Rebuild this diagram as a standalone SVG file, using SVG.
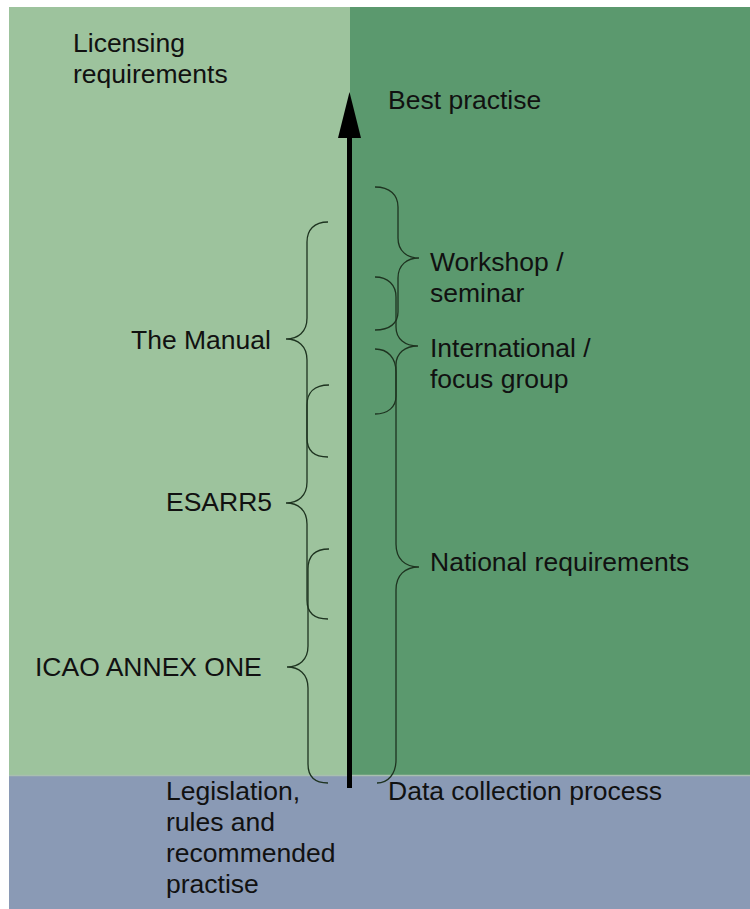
<svg xmlns="http://www.w3.org/2000/svg" width="750" height="909" viewBox="0 0 750 909">
<style>
text{font-family:"Liberation Sans",Arial,sans-serif;font-size:26.5px;fill:#111}
.brace{fill:none;stroke:#1e3320;stroke-width:1.3}
</style>
<rect x="0" y="0" width="750" height="909" fill="#ffffff"/>
<g id="background">
<rect x="9" y="7" width="341" height="768" fill="#9dc39d"/>
<rect x="350" y="7" width="400" height="768" fill="#5b996e"/>
<rect x="9" y="775" width="741" height="134" fill="#8a9ab5"/>
<line x1="9" y1="775.5" x2="750" y2="775.5" stroke="#a9bfb0" stroke-width="1.5"/>
</g>
<g id="connectors">
<line x1="349.5" y1="788" x2="349.5" y2="130" stroke="#000" stroke-width="5"/>
<polygon points="349.5,92 338,138 361,138" fill="#000"/>
<path class="brace" d="M328,222 C314,222 307,230 307,242 L307,318 C307,332 298,339 286,339 C298,339 307,346 307,360 L307,438 C307,450 314,457 328,457"/>
<path class="brace" d="M329,385 C314,385 307,393 307,405 L307,482 C307,496 298,503 286,503 C298,503 307,510 307,524 L307,600 C307,612 314,619 328,619"/>
<path class="brace" d="M329,549 C314,549 308,557 308,569 L308,646 C308,660 299,667 287,667 C299,667 308,674 308,688 L308,764 C308,776 314,783 328,783"/>
<path class="brace" d="M375,187 C390,187 398,195 398,207 L398,238 C398,251 407,258 419,258 C407,258 398,265 398,278 L398,312 C398,323 390,330 375,330"/>
<path class="brace" d="M375,277 C388,277 396,285 396,297 L396,327 C396,339 405,346 418,346 C405,346 396,353 396,365 L396,396 C396,407 388,414 375,414"/>
<path class="brace" d="M375,349 C388,349 396,358 396,372 L396,544 C396,559 405,567 419,567 C405,567 396,575 396,590 L396,760 C396,774 388,783 377,783"/>
</g>
<g id="n-licensing"><text x="73" y="52">Licensing</text><text x="73" y="83">requirements</text></g>
<g id="n-best"><text x="388" y="109">Best practise</text></g>
<g id="n-workshop"><text x="430" y="271">Workshop /</text><text x="430" y="302">seminar</text></g>
<g id="n-international"><text x="430" y="357">International /</text><text x="430" y="388">focus group</text></g>
<g id="n-national"><text x="430" y="571">National requirements</text></g>
<g id="n-manual"><text x="131" y="349">The Manual</text></g>
<g id="n-esarr5"><text x="166" y="511">ESARR5</text></g>
<g id="n-icao"><text x="35" y="676">ICAO ANNEX ONE</text></g>
<g id="n-legislation"><text x="166" y="800">Legislation,</text><text x="166" y="831">rules and</text><text x="166" y="862">recommended</text><text x="166" y="893">practise</text></g>
<g id="n-data"><text x="388" y="800">Data collection process</text></g>
</svg>
